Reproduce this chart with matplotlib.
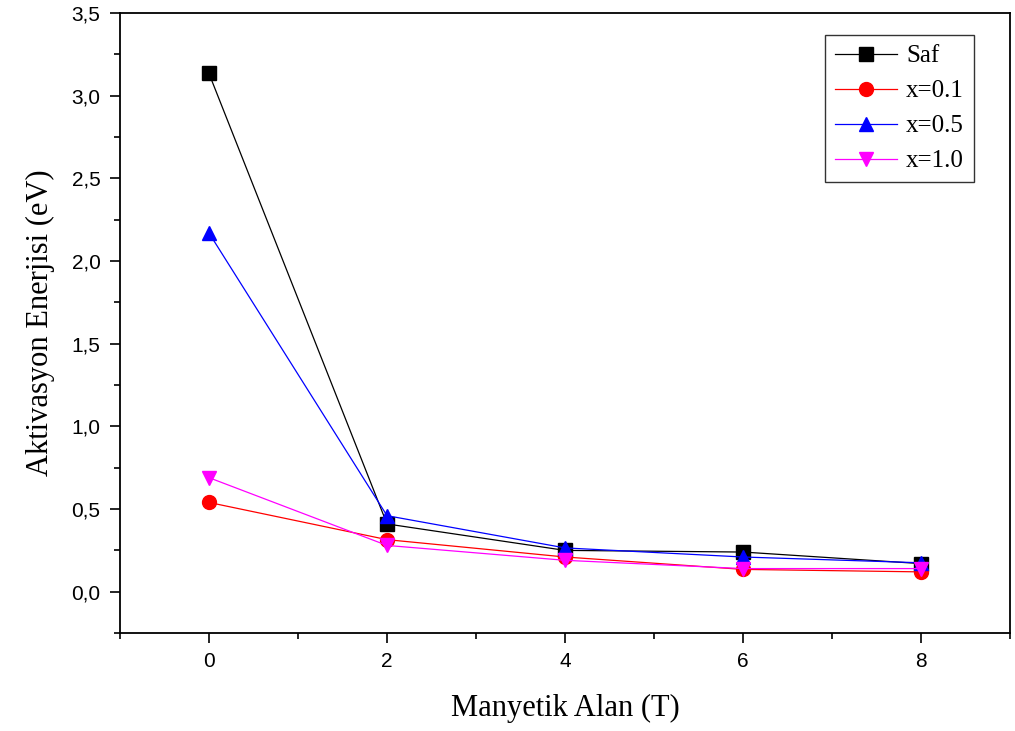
import matplotlib
matplotlib.use("Agg")
import matplotlib.pyplot as plt
from matplotlib.ticker import MultipleLocator, FuncFormatter

# data
alan = [0, 2, 4, 6, 8]
saf = [3.135, 0.41, 0.25, 0.24, 0.17]
x01 = [0.54, 0.315, 0.21, 0.135, 0.12]
x05 = [2.17, 0.46, 0.265, 0.21, 0.175]
x10 = [0.69, 0.28, 0.19, 0.14, 0.14]

series = [
    ("Saf", saf, "black", "s"),
    ("x=0.1", x01, "red", "o"),
    ("x=0.5", x05, "blue", "^"),
    ("x=1.0", x10, "magenta", "v"),
]

fig = plt.figure(figsize=(10.15, 7.31), dpi=100)
ax = fig.add_axes([0.1182, 0.134, 0.877, 0.848])

for name, vals, col, mk in series:
    ax.plot(alan, vals, color=col, marker=mk, markersize=10, linewidth=0.9,
            markeredgecolor=col, label=name)

ax.set_xlim(-1, 9)
ax.set_ylim(-0.25, 3.5)
ax.xaxis.set_major_locator(MultipleLocator(2))
ax.xaxis.set_minor_locator(MultipleLocator(1))
ax.yaxis.set_major_locator(MultipleLocator(0.5))
ax.yaxis.set_minor_locator(MultipleLocator(0.25))
ax.yaxis.set_major_formatter(FuncFormatter(lambda v, p: f"{v:.1f}".replace(".", ",")))

ax.tick_params(which="both", direction="out", width=1.2, top=False, right=False)
ax.tick_params(which="major", length=7, labelsize=15, pad=7)
ax.tick_params(which="minor", length=4)
for lab in ax.get_xticklabels() + ax.get_yticklabels():
    lab.set_fontfamily("Liberation Sans")
for s in ax.spines.values():
    s.set_linewidth(1.3)

ax.set_xlabel("Manyetik Alan (T)", fontsize=22, family="Liberation Serif", labelpad=16)
ax.set_ylabel("Aktivasyon Enerjisi (eV)", fontsize=22, family="Liberation Serif", labelpad=12)

leg = ax.legend(loc="upper right", bbox_to_anchor=(0.9735, 0.985), fancybox=False,
                edgecolor="black", prop={"family": "Liberation Serif", "size": 18},
                handlelength=2.5, borderpad=0.4, labelspacing=0.5, handletextpad=0.35,
                borderaxespad=0.5)
leg.get_frame().set_linewidth(1.0)

fig.savefig("out.png", dpi=100)
